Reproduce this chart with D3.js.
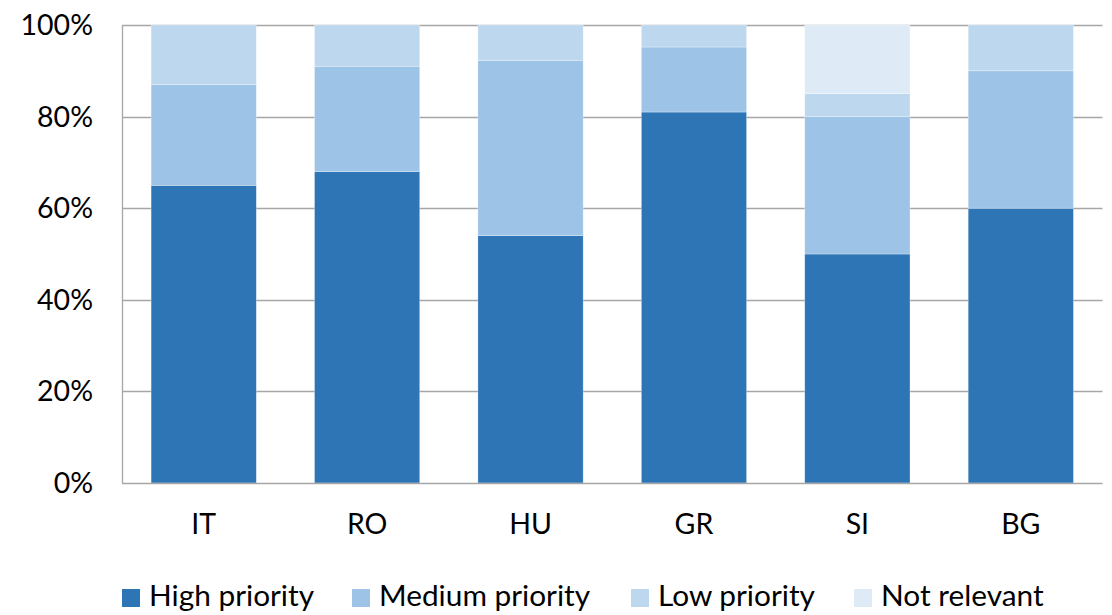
<!DOCTYPE html>
<html><head><meta charset="utf-8">
<script src="https://cdn.jsdelivr.net/npm/d3@7"></script>
<style>body{margin:0;background:#fff}svg{display:block}text{font-family:Lato,"Open Sans",sans-serif;fill:#000}</style>
</head><body>
<svg id="c" width="1112" height="615"></svg>
<script>
const categories = ["IT","RO","HU","GR","SI","BG"];
const seriesNames = ["High priority","Medium priority","Low priority","Not relevant"];
const high   = [65, 68, 54, 81, 50, 60];
const medium = [22, 23, 38.3, 14.2, 30, 30];
const low    = [13, 9, 7.7, 4.8, 5, 10];
const notRel = [0, 0, 0, 0, 15, 0];
const tickValues = [0, 0.2, 0.4, 0.6, 0.8, 1.0];
const colors = ["#2E75B6","#9DC3E6","#BDD7EE","#DEEBF7"];

const svg = d3.select("#c");
const x0 = 122, x1 = 1102.5, yTop = 25, yBot = 483;
const x = d3.scaleBand().domain(categories).range([x0, x1]).paddingInner(0.356).paddingOuter(0.178);
const y = d3.scaleLinear().domain([0, 1]).range([yBot, yTop]);

const rows = categories.map((c, i) => {
  const tot = high[i] + medium[i] + low[i] + notRel[i];
  return {cat: c, "High priority": high[i]/tot, "Medium priority": medium[i]/tot, "Low priority": low[i]/tot, "Not relevant": notRel[i]/tot};
});
const stack = d3.stack().keys(seriesNames)(rows);

// gridlines
svg.append("g").selectAll("line").data(tickValues.filter(v => v > 0)).join("line")
  .attr("x1", x0).attr("x2", x1).attr("y1", d => Math.round(y(d)) + 0.5).attr("y2", d => Math.round(y(d)) + 0.5)
  .attr("stroke", "#A6A6A6").attr("stroke-width", 1.3);

// bars
svg.append("g").selectAll("g").data(stack).join("g")
  .attr("fill", (d, i) => colors[i])
  .selectAll("rect").data(d => d).join("rect")
  .attr("x", d => x(d.data.cat)).attr("width", x.bandwidth())
  .attr("y", d => y(d[1])).attr("height", d => Math.max(0, y(d[0]) - y(d[1])))
  .attr("stroke", "rgba(255,255,255,0.5)").attr("stroke-width", 0.6);

// axes lines
svg.append("line").attr("x1", x0 + 0.5).attr("x2", x0 + 0.5).attr("y1", yTop).attr("y2", yBot)
  .attr("stroke", "#A6A6A6").attr("stroke-width", 1.3);
svg.append("line").attr("x1", x0).attr("x2", x1).attr("y1", yBot + 0.5).attr("y2", yBot + 0.5)
  .attr("stroke", "#A6A6A6").attr("stroke-width", 1.3);

// y tick labels
svg.append("g").selectAll("text").data(tickValues).join("text")
  .attr("x", 93).attr("y", d => y(d) + 10).attr("text-anchor", "end")
  .attr("font-size", 28.5).text(d => d3.format(".0%")(d));

// x labels
svg.append("g").selectAll("text").data(categories).join("text")
  .attr("x", d => x(d) + x.bandwidth() / 2).attr("y", 534).attr("text-anchor", "middle")
  .attr("font-size", 28.5).text(d => d);

// legend
const legX = [122, 352, 631, 854];
const leg = svg.append("g").selectAll("g").data(seriesNames).join("g")
  .attr("transform", (d, i) => `translate(${legX[i]},0)`);
leg.append("rect").attr("x", 0).attr("y", 589).attr("width", 18).attr("height", 18).attr("fill", (d, i) => colors[i]);
leg.append("text").attr("x", 27).attr("y", 606).attr("font-size", 29.8).text(d => d);
</script>
</body></html>
